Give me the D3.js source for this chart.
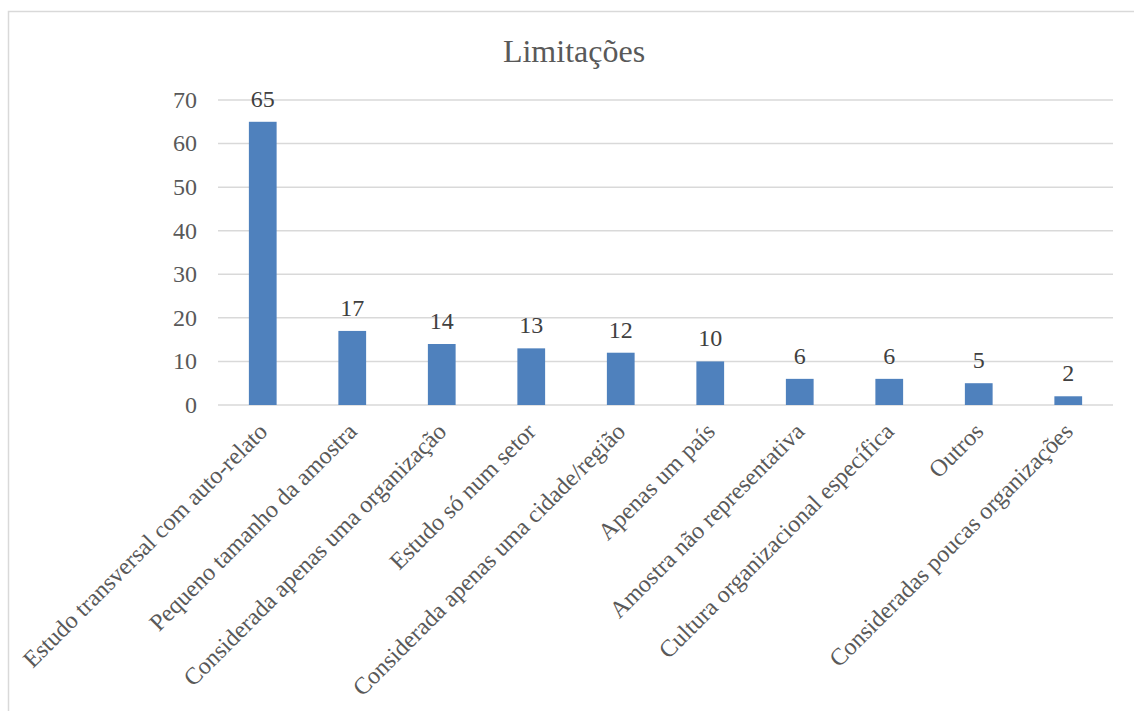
<!DOCTYPE html>
<html>
<head>
<meta charset="utf-8">
<script src="https://cdn.jsdelivr.net/npm/d3@7"></script>
<style>
  body { margin: 0; background: #fff; }
</style>
</head>
<body>
<script>
// chart data
const categories = [
  'Estudo transversal com auto-relato',
  'Pequeno tamanho da amostra',
  'Considerada apenas uma organização',
  'Estudo só num setor',
  'Considerada apenas uma cidade/região',
  'Apenas um país',
  'Amostra não representativa',
  'Cultura organizacional específica',
  'Outros',
  'Consideradas poucas organizações'
];
const values = [65, 17, 14, 13, 12, 10, 6, 6, 5, 2];
const yTicks = [0, 10, 20, 30, 40, 50, 60, 70];
const title = 'Limitações';

const w = 1134, h = 711;
const margin = { left: 218, right: 21, top: 100, bottom: 306 };
const fontFamily = "'Liberation Serif', 'Times New Roman', Times, serif";

const svg = d3.select('body').append('svg')
  .attr('width', w)
  .attr('height', h)
  .attr('font-family', fontFamily)
  .style('font-family', fontFamily)
  .style('display', 'block');

// chart frame
svg.append('rect')
  .attr('x', 8.5).attr('y', 11.5)
  .attr('width', w + 10).attr('height', h + 10)
  .attr('fill', 'none')
  .attr('stroke', '#d9d9d9')
  .attr('stroke-width', 1.5);

const x = d3.scaleBand()
  .domain(categories)
  .range([margin.left, w - margin.right])
  .paddingInner(0.69)
  .paddingOuter(0.345);

const y = d3.scaleLinear()
  .domain([0, 70])
  .range([h - margin.bottom, margin.top]);

// gridlines
svg.append('g')
  .selectAll('line')
  .data(yTicks)
  .enter().append('line')
  .attr('x1', margin.left)
  .attr('x2', w - margin.right)
  .attr('y1', d => y(d))
  .attr('y2', d => y(d))
  .attr('stroke', '#d9d9d9')
  .attr('stroke-width', 1.5);

// y tick labels
svg.append('g')
  .selectAll('text')
  .data(yTicks)
  .enter().append('text')
  .attr('x', 197)
  .attr('y', d => y(d))
  .attr('dy', '0.33em')
  .attr('text-anchor', 'end')
  .attr('fill', '#595959')
  .attr('font-size', 24)
  .text(d => d);

// bars
svg.append('g')
  .selectAll('rect')
  .data(values)
  .enter().append('rect')
  .attr('x', (d, i) => x(categories[i]))
  .attr('y', d => y(d))
  .attr('width', x.bandwidth())
  .attr('height', d => y(0) - y(d))
  .attr('fill', '#4f81bd');

// value labels
svg.append('g')
  .selectAll('text')
  .data(values)
  .enter().append('text')
  .attr('x', (d, i) => x(categories[i]) + x.bandwidth() / 2)
  .attr('y', d => y(d) - 15)
  .attr('text-anchor', 'middle')
  .attr('fill', '#404040')
  .attr('font-size', 24)
  .text(d => d);

// category labels, rotated
svg.append('g')
  .selectAll('text')
  .data(categories)
  .enter().append('text')
  .attr('transform', d => {
    const cx = x(d) + x.bandwidth() / 2 + 6;
    return `translate(${cx},${y(0) + 28}) rotate(-45)`;
  })
  .attr('text-anchor', 'end')
  .attr('fill', '#595959')
  .attr('font-size', 24)
  .text(d => d);

// title
svg.append('text')
  .attr('x', 574)
  .attr('y', 62)
  .attr('text-anchor', 'middle')
  .attr('fill', '#595959')
  .attr('font-size', 32)
  .text(title);
</script>
</body>
</html>
